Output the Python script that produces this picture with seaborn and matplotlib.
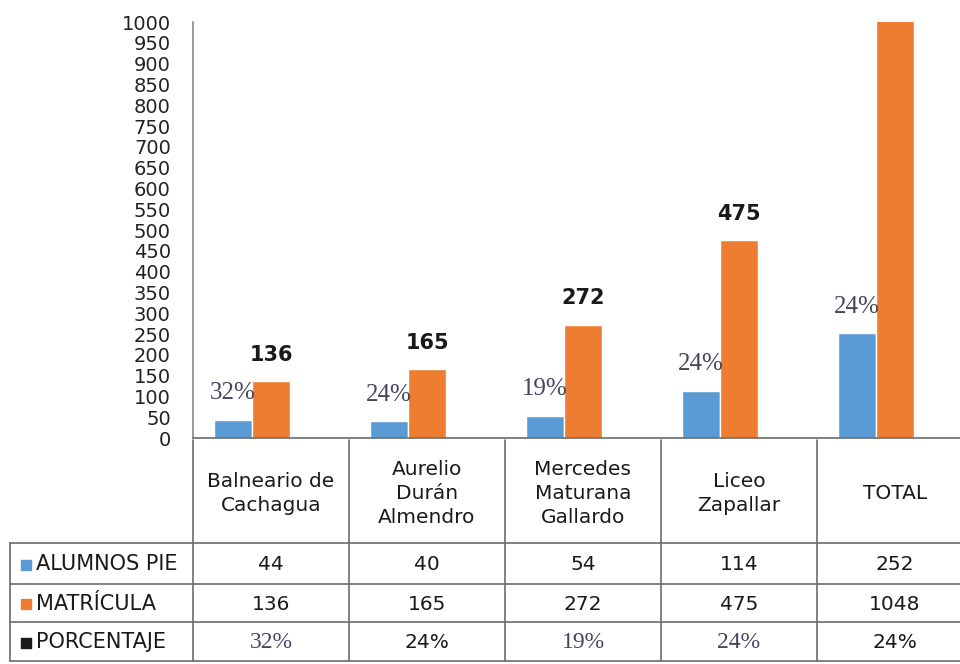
import matplotlib
matplotlib.use('Agg')
import matplotlib.pyplot as plt
import seaborn as sns
import pandas as pd

# data
categories = ['Balneario de\nCachagua', 'Aurelio\nDurán\nAlmendro', 'Mercedes\nMaturana\nGallardo',
              'Liceo\nZapallar', 'TOTAL']
series_names = ['ALUMNOS PIE', 'MATRÍCULA', 'PORCENTAJE']
alumnos_pie = [44, 40, 54, 114, 252]
matricula = [136, 165, 272, 475, 1048]
porcentaje = [0.32, 0.24, 0.19, 0.24, 0.24]
pct_labels = ['32%', '24%', '19%', '24%', '24%']
# which percentage cells of the table are printed in a serif face
pct_serif = [True, False, True, True, False]
y_ticks = list(range(0, 1001, 50))

colors = ['#5B9BD5', '#ED7D31', '#1a1a1a']
line_col = '#6b6b6b'
pct_col = '#45455e'

sns.set_theme(style='white')
plt.rcParams['font.family'] = ['DejaVu Sans']

df = pd.DataFrame({
    'cat': categories * 3,
    'serie': [s for s in series_names for _ in categories],
    'valor': alumnos_pie + matricula + porcentaje,
})

W, H = 960, 664
fig = plt.figure(figsize=(W / 100, H / 100), dpi=100)

# main bar area (pixel layout)
ax_left, ax_right, ax_top, ax_bot = 193, 960, 22, 438
col_w = 156
ax = fig.add_axes([ax_left / W, 1 - ax_bot / H, (ax_right - ax_left) / W, (ax_bot - ax_top) / H])

sns.barplot(data=df, x='cat', y='valor', hue='serie', palette=colors, width=0.73,
            saturation=1, legend=False, ax=ax)

ax.set_xlim(-0.5, -0.5 + (ax_right - ax_left) / col_w)
ax.set_ylim(0, 1000)
ax.set_yticks(y_ticks)
ax.set_yticklabels([str(t) for t in y_ticks], fontsize=14, color='#222222')
ax.tick_params(axis='y', length=0, pad=16)
ax.set_xticks([])
ax.set_xlabel('')
ax.set_ylabel('')
for s in ['top', 'right']:
    ax.spines[s].set_visible(False)
ax.spines['left'].set_color('#8a8a8a')
ax.spines['bottom'].set_color(line_col)
ax.spines['left'].set_linewidth(1.2)
ax.spines['bottom'].set_linewidth(1.2)

blue_bars, orange_bars = ax.containers[0], ax.containers[1]
ax.bar_label(orange_bars, labels=[str(v) if v <= 1000 else '' for v in matricula],
             padding=12, fontsize=15, fontweight='bold', color='#1a1a1a')
ax.bar_label(blue_bars, labels=pct_labels, padding=11, fontsize=18,
             family='Liberation Serif', color=pct_col)

# data table under the chart
tab = fig.add_axes([0, 0, 1, (H - 440) / H])
tab.set_xlim(0, W)
tab.set_ylim(H, 440)
tab.axis('off')

def px_x(xd):
    return ax.transData.transform((xd, 0))[0]

bounds = [px_x(i - 0.5) for i in range(len(categories) + 1)]
rows_y = [440, 543, 584, 622, 661]
left_x = 10

for b in bounds:
    tab.plot([b, b], [rows_y[0], rows_y[-1]], color=line_col, lw=1.2, clip_on=False)
tab.plot([left_x, left_x], [rows_y[1], rows_y[-1]], color=line_col, lw=1.2)
for yy in rows_y[1:]:
    tab.plot([left_x, W], [yy, yy], color=line_col, lw=1.2)

centers = [px_x(i) for i in range(len(categories))]
for cx, name in zip(centers, categories):
    tab.text(cx, (rows_y[0] + rows_y[1]) / 2 + 2, name, ha='center', va='center',
             fontsize=14.5, color='#1a1a1a', linespacing=1.35)

row_values = [
    [str(v) for v in alumnos_pie],
    [str(v) for v in matricula],
    pct_labels,
]
for r, (name, vals, c) in enumerate(zip(series_names, row_values, colors)):
    yc = (rows_y[r + 1] + rows_y[r + 2]) / 2 + 1
    tab.scatter([26], [yc], marker='s', s=55, color=c, zorder=3)
    tab.text(36, yc, name, ha='left', va='center', fontsize=15, color='#1a1a1a')
    for i, (cx, v) in enumerate(zip(centers, vals)):
        if r == 2 and pct_serif[i]:
            tab.text(cx, yc, v, ha='center', va='center', fontsize=17,
                     family='Liberation Serif', color=pct_col)
        else:
            tab.text(cx, yc, v, ha='center', va='center', fontsize=14.5, color='#1a1a1a')

fig.savefig('out.png', dpi=100)
